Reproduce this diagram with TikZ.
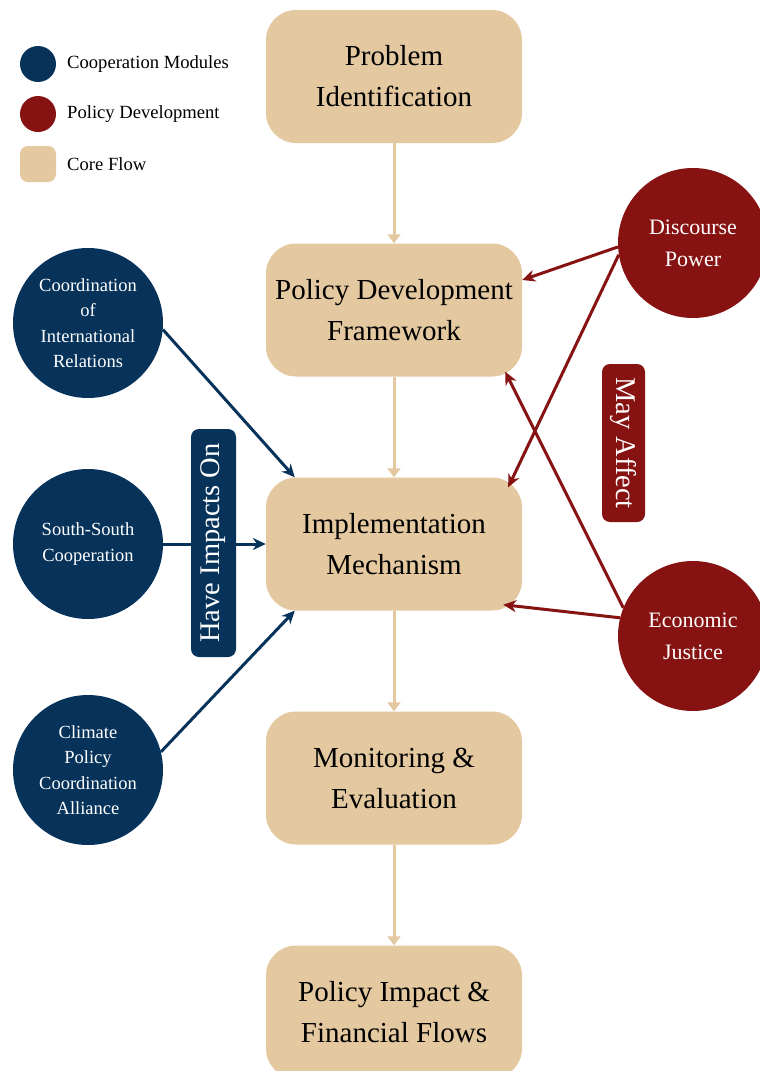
\documentclass[tikz,border=0pt]{standalone}
\usepackage{fontspec}
\setmainfont{Liberation Serif}
\usetikzlibrary{arrows.meta}

\definecolor{coopblue}{HTML}{07335A}
\definecolor{policyred}{HTML}{861212}
\definecolor{corebeige}{HTML}{E3C8A0}

\tikzset{
    corebox/.style={draw=none, fill=corebeige, rounded corners=30pt,
        minimum width=256pt, minimum height=133pt, align=center,
        font=\fontsize{29}{41}\selectfont},
    coopnode/.style={circle, fill=coopblue, text=white, minimum size=150pt,
        inner sep=0pt, align=center, font=\fontsize{18.5}{25.5}\selectfont},
    policynode/.style={circle, fill=policyred, text=white, minimum size=150pt,
        inner sep=0pt, align=center, font=\fontsize{22}{32}\selectfont},
    tagbox/.style={rounded corners=8pt, text=white, inner sep=0pt,
        font=\fontsize{28.5}{34}\selectfont},
    legendtext/.style={anchor=west, inner sep=0pt, font=\fontsize{18.6}{22}\selectfont},
    flow/.style={corebeige, line width=3pt, -{Triangle[length=9pt,width=13pt]}},
    coopflow/.style={coopblue, line width=3pt, -{Stealth[length=13pt,width=12pt]}},
    policyflow/.style={policyred, line width=3pt, -{Stealth[length=13pt,width=12pt]}}
}

\begin{document}
\begin{tikzpicture}[x=1pt, y=1pt]
    \useasboundingbox (0,0) rectangle (760,-1071);

    % legend
    \node[circle, fill=coopblue, minimum size=36pt, inner sep=0pt] (legcoop) at (38,-64) {};
    \node[legendtext] (legcooptxt) at (67,-64) {Cooperation Modules};
    \node[circle, fill=policyred, minimum size=36pt, inner sep=0pt] (legpol) at (38,-114) {};
    \node[legendtext] (legpoltxt) at (67,-114) {Policy Development};
    \node[fill=corebeige, rounded corners=8pt, minimum size=36pt, inner sep=0pt] (legcore) at (38,-164) {};
    \node[legendtext] (legcoretxt) at (67,-164) {Core Flow};

    % core flow
    \node[corebox] (prob) at (394,-76.5) {Problem\\Identification};
    \node[corebox] (pdf) at (394,-310) {Policy Development\\Framework};
    \node[corebox] (impl) at (394,-544) {Implementation\\Mechanism};
    \node[corebox] (monit) at (394,-778) {Monitoring \&\\Evaluation};
    \node[corebox] (impact) at (394,-1012) {Policy Impact \&\\Financial Flows};

    \draw[flow] (prob) -- (pdf);
    \draw[flow] (pdf) -- (impl);
    \draw[flow] (impl) -- (monit);
    \draw[flow] (monit) -- (impact);

    % cooperation modules
    \node[coopnode] (coord) at (88,-323) {Coordination\\of\\International\\Relations};
    \node[coopnode] (south) at (88,-544) {South-South\\Cooperation};
    \node[coopnode] (clim) at (88,-770) {Climate\\Policy\\Coordination\\Alliance};

    \draw[coopflow] (coord.-5) -- ([xshift=29pt]impl.north west);
    \draw[coopflow] (south.east) -- (impl.west);
    \draw[coopflow] (clim.14) -- ([xshift=29pt]impl.south west);

    \node[tagbox, fill=coopblue, rotate=90, minimum width=228pt, minimum height=45pt]
        (impacts) at (213.5,-543) {Have Impacts On};

    % policy development
    \node[policynode] (disc) at (693,-243) {Discourse\\Power};
    \node[policynode] (econ) at (693,-636) {Economic\\Justice};

    \draw[policyflow] (disc.183) -- ([yshift=30pt]pdf.east);
    \draw[policyflow] (disc.189) -- ([xshift=-14pt,yshift=-10pt]impl.north east);
    \draw[policyflow] (econ.158) -- ([xshift=-17pt,yshift=5pt]pdf.south east);
    \draw[policyflow] (econ.166) -- ([xshift=-19pt,yshift=6pt]impl.south east);

    \node[tagbox, fill=policyred, rotate=-90, minimum width=158pt, minimum height=43pt]
        (affect) at (623.5,-443) {May Affect};
\end{tikzpicture}
\end{document}
